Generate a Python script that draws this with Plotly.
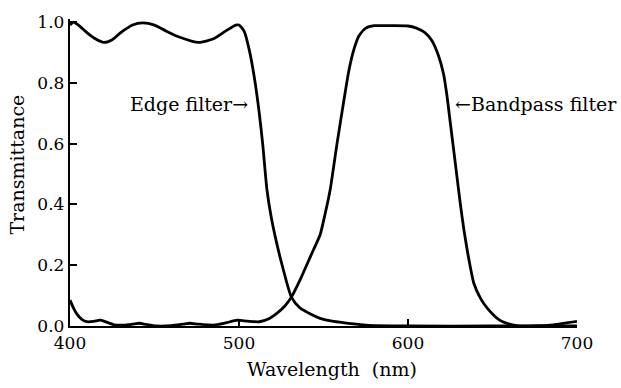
import plotly.graph_objects as go

# Edge (long-pass cutoff) filter transmittance curve
edge_wavelength = [400, 402, 405, 410, 415, 420, 425, 430, 437, 443, 450, 457, 465,
                   476, 485, 492, 498, 500, 503, 506, 509, 512, 514, 516.5, 519,
                   522, 526, 531, 536, 542, 548, 556, 566, 575, 600, 650, 700]
edge_transmittance = [0.99, 1.0, 0.99, 0.965, 0.945, 0.933, 0.942, 0.965, 0.99, 0.997,
                      0.99, 0.97, 0.95, 0.933, 0.945, 0.97, 0.99, 0.99, 0.97, 0.91,
                      0.82, 0.70, 0.60, 0.45, 0.36, 0.28, 0.19, 0.095, 0.06, 0.04,
                      0.025, 0.015, 0.008, 0.003, 0.0, 0.0, 0.0]

# Bandpass filter transmittance curve
band_wavelength = [400, 402, 404, 407, 410, 414, 418, 422, 426, 432, 437, 441, 445,
                   451, 460, 467, 471, 476, 485, 492, 499, 505, 512, 518, 522, 527,
                   531, 536, 540, 544, 548, 551, 554, 558, 562, 565, 568, 571, 575,
                   580, 590, 600, 605, 610, 614, 618, 621, 623, 625, 627, 629, 631,
                   633, 636, 639, 643, 647, 654, 660, 665, 675, 686, 700]
band_transmittance = [0.085, 0.06, 0.04, 0.022, 0.014, 0.015, 0.019, 0.012, 0.004,
                      0.003, 0.006, 0.009, 0.005, 0.0, 0.001, 0.006, 0.009, 0.006,
                      0.003, 0.01, 0.019, 0.016, 0.014, 0.025, 0.04, 0.065, 0.095,
                      0.15, 0.2, 0.25, 0.3, 0.37, 0.45, 0.6, 0.74, 0.84, 0.91, 0.955,
                      0.98, 0.988, 0.988, 0.987, 0.98, 0.965, 0.94, 0.89, 0.83, 0.76,
                      0.67, 0.58, 0.49, 0.4, 0.32, 0.22, 0.14, 0.09, 0.058, 0.02,
                      0.006, 0.0, 0.0, 0.004, 0.015]

x_ticks = [400, 500, 600, 700]
y_ticks = [0.0, 0.2, 0.4, 0.6, 0.8, 1.0]

FONT = "DejaVu Serif"
line_style = dict(color="black", width=2.8, shape="spline", smoothing=0.6)

fig = go.Figure()
fig.add_trace(go.Scatter(x=edge_wavelength, y=edge_transmittance, mode="lines",
                         line=line_style, name="Edge filter"))
fig.add_trace(go.Scatter(x=band_wavelength, y=band_transmittance, mode="lines",
                         line=line_style, name="Bandpass filter"))

label_font = dict(family=FONT, size=19, color="black")

# Curve labels with arrows pointing at each curve
fig.add_annotation(x=506.5, y=0.729, text="Edge filter\u2192", showarrow=False,
                   xanchor="right", yanchor="middle", font=label_font)
fig.add_annotation(x=626.6, y=0.729, text="\u2190Bandpass filter", showarrow=False,
                   xanchor="left", yanchor="middle", font=label_font)

# Axis titles
fig.add_annotation(x=0.517, y=-0.14, xref="paper", yref="paper",
                   text="Wavelength  (nm)", showarrow=False,
                   xanchor="center", yanchor="middle", font=label_font)
fig.add_annotation(x=-0.105, y=0.525, xref="paper", yref="paper",
                   text="Transmittance", showarrow=False, textangle=-90,
                   xanchor="center", yanchor="middle", font=label_font)

axis_common = dict(showgrid=False, zeroline=False, showline=True, linecolor="black",
                   linewidth=2.4, ticks="inside", ticklen=7, tickwidth=1.5,
                   tickcolor="black", mirror=False,
                   tickfont=dict(family=FONT, size=17, color="black"))

fig.update_xaxes(range=[400, 700], tickvals=x_ticks, **axis_common)
fig.update_yaxes(range=[0, 1.01], tickvals=y_ticks, tickformat=".1f", **axis_common)

fig.update_layout(width=621, height=388, showlegend=False,
                  plot_bgcolor="white", paper_bgcolor="white",
                  margin=dict(l=70, r=44, t=13, b=62))

fig.write_html("out.html")
